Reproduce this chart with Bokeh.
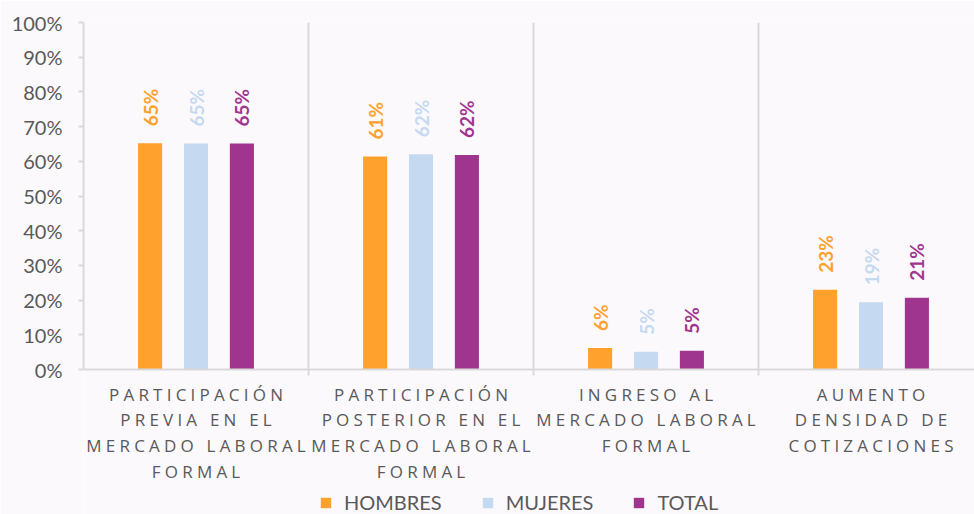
import math
from bokeh.plotting import figure
from bokeh.models import (Range1d, FixedTicker, Legend, LegendItem, ColumnDataSource,
                          LinearAxis, CustomJS)
from bokeh.document import Document
from bokeh.transform import dodge
from bokeh.core.properties import value
from bokeh.embed import file_html
from bokeh.resources import INLINE

categories = [
    "PARTICIPACIÓN\nPREVIA EN EL\nMERCADO LABORAL\nFORMAL",
    "PARTICIPACIÓN\nPOSTERIOR EN EL\nMERCADO LABORAL\nFORMAL",
    "INGRESO AL\nMERCADO LABORAL\nFORMAL",
    "AUMENTO\nDENSIDAD DE\nCOTIZACIONES",
]
series = ["HOMBRES", "MUJERES", "TOTAL"]
hombres = [65.2, 61.4, 6.2, 23.0]
mujeres = [65.1, 62.0, 5.1, 19.4]
total = [65.1, 61.8, 5.4, 20.7]
y_ticks = [0, 10, 20, 30, 40, 50, 60, 70, 80, 90, 100]

colors = ["#FFA12D", "#C5D9F1", "#A0358F"]
BG = "#FBF9FC"
AXIS = "#D9D9D9"
TEXT = "#595959"

# layout (pixels): plot area 0%..100% spans 347px, with 145px below it for labels + legend
FRAME_H_DATA = 347
BELOW = 145
y_start = -100.0 * BELOW / FRAME_H_DATA

centers = [i + 0.5 for i in range(len(categories))]
boundaries = [float(i) for i in range(1, len(categories))]
src = ColumnDataSource(dict(
    x=centers,
    hombres=hombres, mujeres=mujeres, total=total,
    lab_h=[f"{round(v)}%" for v in hombres],
    lab_m=[f"{round(v)}%" for v in mujeres],
    lab_t=[f"{round(v)}%" for v in total],
))

p = figure(
    frame_width=891, frame_height=FRAME_H_DATA + BELOW,
    x_range=Range1d(0, 3.96), y_range=Range1d(y_start, 100),
    output_backend="svg", toolbar_location=None,
    min_border_left=83, min_border_right=0, min_border_top=22, min_border_bottom=0,
    x_axis_location=None, y_axis_location=None,
)
p.background_fill_color = BG
p.border_fill_color = BG
p.outline_line_color = None
p.grid.visible = False

# category divider lines
p.segment(x0=boundaries, y0=[0] * len(boundaries), x1=boundaries, y1=[100] * len(boundaries),
          line_color=AXIS, line_width=2)

offsets = [-0.204, 0.0, 0.204]
fields = ["hombres", "mujeres", "total"]
labfields = ["lab_h", "lab_m", "lab_t"]
renderers = []
for off, f, lf, c in zip(offsets, fields, labfields, colors):
    r = p.vbar(x=dodge("x", off, range=p.x_range), top=f, width=0.107, source=src,
               fill_color=c, line_color=None)
    renderers.append(r)
    p.text(x=dodge("x", off, range=p.x_range), y=f, text=lf, source=src,
           angle=math.pi / 2, text_align="left", text_baseline="middle",
           y_offset=-17, text_font=value("Lato"), text_font_style="bold",
           text_font_size="19px", text_color=c)

# y axis
yax = LinearAxis(ticker=FixedTicker(ticks=y_ticks), bounds=(0, 100),
                 major_label_overrides={t: f"{t}%" for t in y_ticks})
yax.axis_line_color = AXIS
yax.axis_line_width = 2
yax.major_tick_line_color = AXIS
yax.major_tick_line_width = 2
yax.major_tick_in = 0
yax.major_tick_out = 5
yax.minor_tick_line_color = None
yax.major_label_text_font = "Lato"
yax.major_label_text_font_size = "20px"
yax.major_label_text_color = TEXT
yax.major_label_standoff = 16
p.add_layout(yax, "left")

# x axis at 0% with category labels and boundary ticks
xax = LinearAxis(ticker=FixedTicker(ticks=centers, minor_ticks=boundaries),
                 major_label_overrides={c: lab for c, lab in zip(centers, categories)},
                 fixed_location=0)
xax.axis_line_color = AXIS
xax.axis_line_width = 2
xax.major_tick_line_color = None
xax.minor_tick_line_color = AXIS
xax.minor_tick_line_width = 2
xax.minor_tick_in = 0
xax.minor_tick_out = 6
xax.major_label_text_font = "Open Sans"
xax.major_label_text_font_size = "17px"
xax.major_label_text_line_height = 1.12
xax.major_label_text_color = TEXT
xax.major_label_standoff = 7
p.add_layout(xax, "below")

legend = Legend(items=[LegendItem(label=s, renderers=[r]) for s, r in zip(series, renderers)],
                orientation="horizontal", location=(236, 0))
legend.label_text_font = "Lato"
legend.label_text_font_size = "20px"
legend.label_text_color = TEXT
legend.glyph_width = 13
legend.glyph_height = 13
legend.label_standoff = 12
legend.spacing = 39
legend.padding = 0
legend.margin = 0
legend.border_line_color = None
legend.background_fill_alpha = 0
p.add_layout(legend, "center")

# letter spacing for the category labels (svg text inside shadow roots)
spacing_js = CustomJS(code="""
const LS = 4.2;
function fix(root) {
  root.querySelectorAll('text').forEach(t => {
    const ff = t.getAttribute('font-family') || '';
    if (ff.indexOf('Open') >= 0 && !t.hasAttribute('data-ls')) {
      t.setAttribute('data-ls', '1');
      t.style.letterSpacing = LS + 'px';
      const n = t.textContent.length;
      t.setAttribute('dx', String(-(n - 1) * LS / 2));
    }
  });
}
function walk(node) {
  fix(node);
  node.querySelectorAll('*').forEach(el => { if (el.shadowRoot) walk(el.shadowRoot); });
}
let n = 0;
const id = setInterval(() => { walk(document); n += 1; if (n > 80) clearInterval(id); }, 40);
walk(document);
""")

doc = Document()
doc.add_root(p)
doc.js_on_event("document_ready", spacing_js)

open("out.html", "w").write(file_html(p, INLINE))
